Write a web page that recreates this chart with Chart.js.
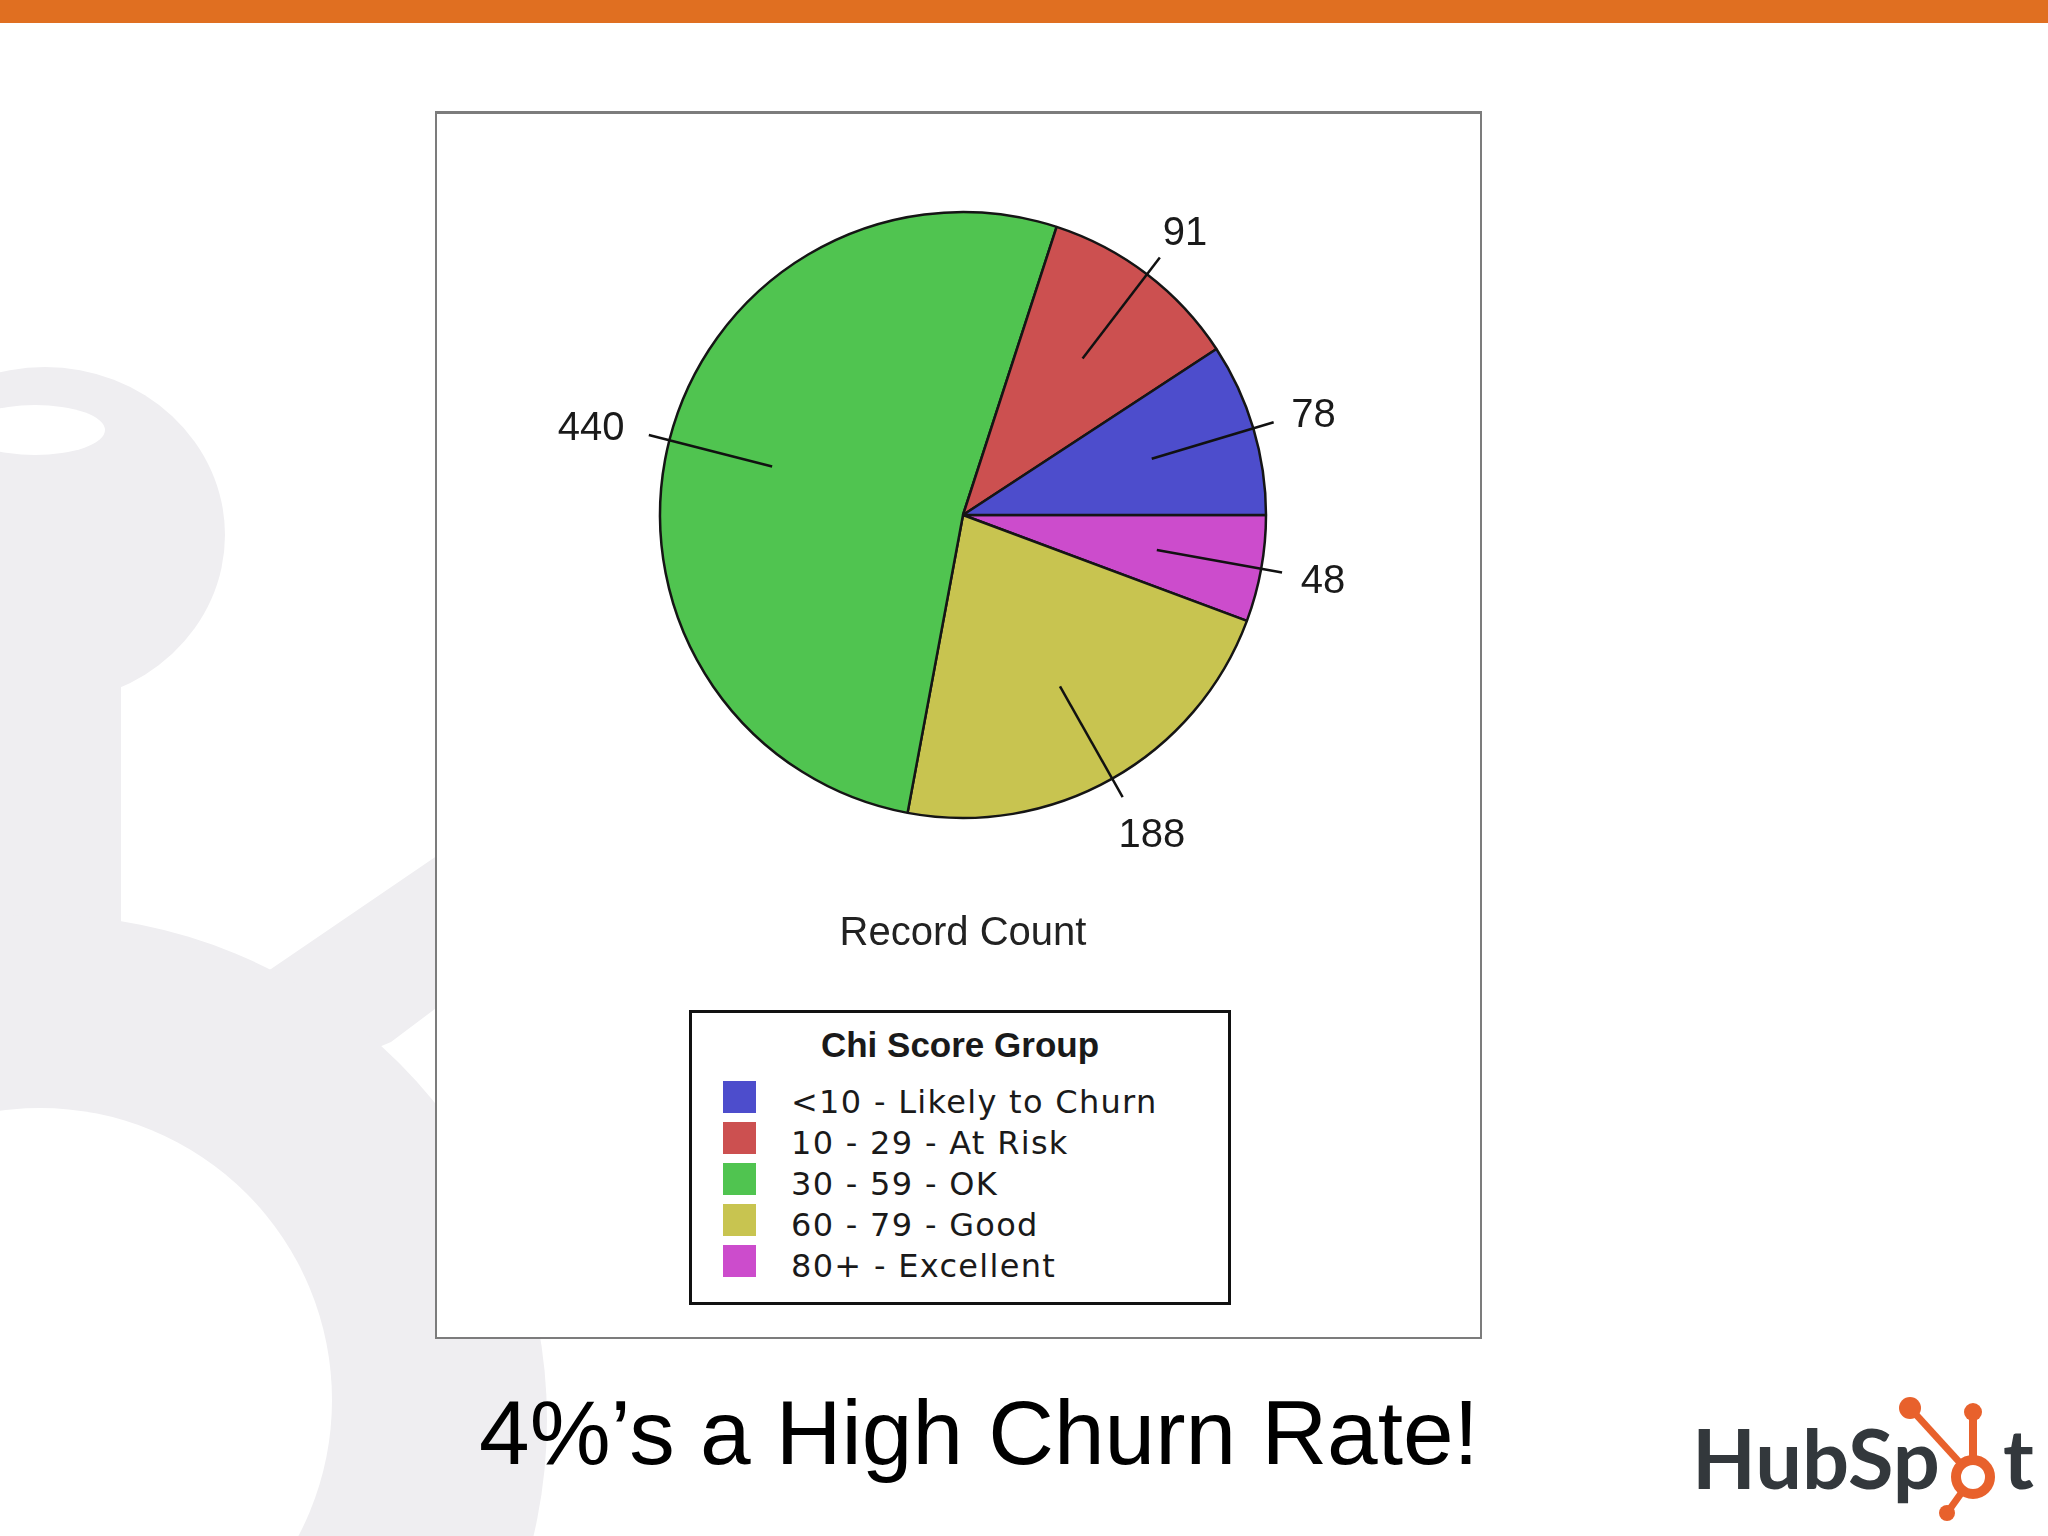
<!DOCTYPE html>
<html>
<head>
<meta charset="utf-8">
<title>Record Count by Chi Score Group</title>
<script src="https://cdn.jsdelivr.net/npm/chart.js@4.4.0/dist/chart.umd.min.js"></script>
<style>
  html, body { margin: 0; padding: 0; }
  body {
    width: 2048px; height: 1536px; position: relative; overflow: hidden;
    background: #fff; font-family: "Liberation Sans", Arial, sans-serif;
  }
  .topbar { position: absolute; left: 0; top: 0; width: 2048px; height: 23px; background: #e06f21; }
  .watermark { position: absolute; left: 0; top: 0; }
  .chart-box {
    position: absolute; left: 435px; top: 111px; width: 1043px; height: 1223px;
    border: 2px solid #7c7c7c; border-top-width: 3px; background: #fff;
  }
  .pie-wrap { position: absolute; left: 513px; top: 135px; width: 900px; height: 823px; }
  #legend {
    position: absolute; left: 689px; top: 1010px; width: 536px; height: 289px;
    border: 3px solid #111; background: #fff; color: #1a1a1a;
  }
  #legend .title {
    position: absolute; left: 0; top: 14px; width: 100%; text-align: center;
    font: bold 35px/35px "Liberation Sans", Arial, sans-serif;
  }
  #legend .row { position: absolute; left: 0; height: 41px; width: 100%; }
  #legend .swatch { position: absolute; left: 31px; top: 0; width: 33px; height: 32px; }
  #legend .label {
    position: absolute; left: 99px; top: 5px; white-space: nowrap;
    font: 32px/32px "DejaVu Sans", sans-serif; letter-spacing: 1.3px;
  }
  .headline {
    position: absolute; left: 0; top: 1387px; width: 1958px; text-align: center;
    font: 91px/91px "Liberation Sans", Arial, sans-serif; color: #000;
  }
  .logo-text {
    position: absolute; top: 1416px; font: 700 83px/83px Lato, sans-serif; color: #33383c;
  }
  .sprocket { position: absolute; left: 1880px; top: 1390px; }
</style>
</head>
<body>
<div class="topbar"></div>

<svg class="watermark" width="2048" height="1536" viewBox="0 0 2048 1536">
  <g fill="#efeef1">
    <ellipse cx="45" cy="535" rx="180" ry="168"></ellipse>
    <rect x="-10" y="600" width="131" height="350"></rect>
    <polygon points="200,1000 271,969 560,772 560,915 391,1042 300,1080"></polygon>
    <circle cx="42" cy="1420" r="505"></circle>
  </g>
  <g fill="#fff">
    <circle cx="40" cy="1400" r="292"></circle>
    <ellipse cx="35" cy="430" rx="70" ry="25"></ellipse>
  </g>
</svg>

<div class="chart-box"></div>
<div class="pie-wrap"><canvas id="pie"></canvas></div>
<div id="legend"></div>

<div class="headline">4%’s a High Churn Rate!</div>

<span class="logo-text" style="left:1692px">HubSp</span>
<svg class="sprocket" width="130" height="140" viewBox="1880 1390 130 140">
  <g stroke="#e8612c" fill="#e8612c">
    <line x1="1973" y1="1462" x2="1973" y2="1414" stroke-width="8"></line>
    <line x1="1962" y1="1465" x2="1910" y2="1408" stroke-width="7"></line>
    <line x1="1962" y1="1492" x2="1947" y2="1513" stroke-width="7"></line>
    <circle cx="1973" cy="1477" r="17" fill="none" stroke-width="10"></circle>
    <circle cx="1973" cy="1412" r="9" stroke="none"></circle>
    <circle cx="1910" cy="1408" r="11" stroke="none"></circle>
    <circle cx="1947" cy="1513" r="8" stroke="none"></circle>
  </g>
</svg>
<span class="logo-text" style="left:2003px">t</span>

<script>
const categories = ["<10 - Likely to Churn", "10 - 29 - At Risk", "30 - 59 - OK", "60 - 79 - Good", "80+ - Excellent"];
const recordCounts = [78, 91, 440, 188, 48];
const sliceColors = ["#4d4dcc", "#cc5050", "#50c450", "#c8c450", "#cc4ccc"];
const legendTitle = "Chi Score Group";
const measureTitle = "Record Count";

// leader lines + value labels outside the slices
const sliceLabels = {
  id: "sliceLabels",
  afterDatasetsDraw(chart) {
    const ctx = chart.ctx;
    const values = chart.data.datasets[0].data;
    const arcs = chart.getDatasetMeta(0).data;
    ctx.save();
    ctx.font = '40px "Liberation Sans", Arial, sans-serif';
    ctx.fillStyle = "#1a1a1a";
    ctx.strokeStyle = "#111";
    ctx.lineWidth = 2.5;
    ctx.textAlign = "center";
    ctx.textBaseline = "alphabetic";
    arcs.forEach(function (arc, i) {
      const p = arc.getProps(["x", "y", "startAngle", "endAngle", "outerRadius"], true);
      const mid = (p.startAngle + p.endAngle) / 2;
      const dx = Math.cos(mid);
      const dy = Math.sin(mid);
      const r = p.outerRadius;
      const x1 = p.x + dx * r * 1.07;
      const y1 = p.y + dy * r * 1.07;
      ctx.beginPath();
      ctx.moveTo(p.x + dx * r * 0.65, p.y + dy * r * 0.65);
      ctx.lineTo(x1, y1);
      ctx.stroke();

      const text = String(values[i]);
      const w = ctx.measureText(text).width;
      const h = 29;
      const gap = 6 + w * 0.3;
      ctx.fillText(text, x1 + dx * (gap + w / 2), y1 + dy * (gap + h / 2) + h / 2);
    });
    ctx.restore();
  },
};

function buildLegend(chart) {
  const items = chart.options.plugins.legend.labels.generateLabels(chart).reverse();
  const box = document.getElementById("legend");
  box.innerHTML = "";
  const title = document.createElement("div");
  title.className = "title";
  title.textContent = legendTitle;
  box.appendChild(title);
  items.forEach(function (item, i) {
    const row = document.createElement("div");
    row.className = "row";
    row.style.top = 68 + 41 * i + "px";
    const sw = document.createElement("span");
    sw.className = "swatch";
    sw.style.background = item.fillStyle;
    const label = document.createElement("span");
    label.className = "label";
    label.textContent = item.text;
    row.appendChild(sw);
    row.appendChild(label);
    box.appendChild(row);
  });
}

function initPie() {
  // slices run clockwise from 3 o'clock, so the legend order is reversed here
  const data = {
    labels: categories.slice().reverse(),
    datasets: [
      {
        data: recordCounts.slice().reverse(),
        backgroundColor: sliceColors.slice().reverse(),
        borderColor: "#151515",
        borderWidth: 2.5,
      },
    ],
  };
  const config = {
    type: "pie",
    data,
    options: {
      responsive: true,
      maintainAspectRatio: false,
      animation: false,
      events: [],
      rotation: 90,
      radius: 303,
      layout: { padding: 0 },
      plugins: {
        legend: { display: false },
        tooltip: { enabled: false },
        title: {
          display: true,
          position: "bottom",
          text: measureTitle,
          color: "#222",
          font: { family: '"Liberation Sans", Arial, sans-serif', size: 40, weight: "normal", lineHeight: 1.2 },
          padding: { top: 15, bottom: 0 },
        },
      },
    },
    plugins: [sliceLabels],
  };

  var pieChart = new Chart(document.getElementById("pie"), config);
  buildLegend(pieChart);
}

initPie();
</script>
</body>
</html>
